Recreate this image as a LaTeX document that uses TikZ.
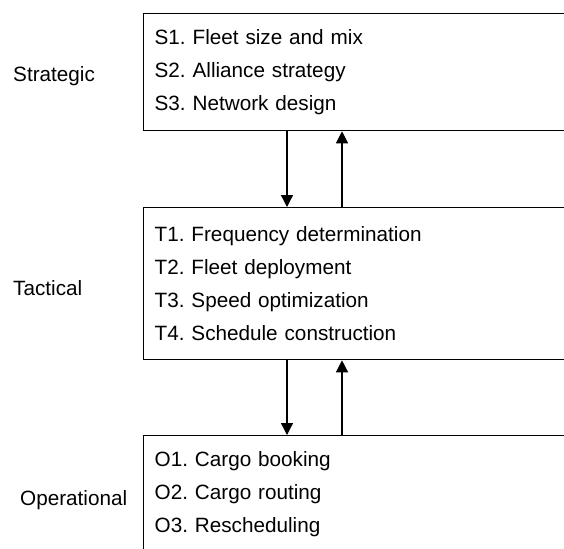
\documentclass[tikz,border=0pt]{standalone}
\usepackage{fontspec}
\setmainfont{Liberation Sans}
\usetikzlibrary{arrows.meta,positioning}
\frenchspacing

\begin{document}
\begin{tikzpicture}[
    x=1pt, y=-1pt,
    font=\fontsize{20.7}{33}\selectfont,
    level/.style={draw, line width=1.3pt, inner xsep=11pt, inner ysep=0pt,
        text width=478pt, align=left},
    tag/.style={inner sep=0pt},
    flow/.style={line width=1.3pt, -{Triangle[length=12pt, width=12pt]}}
]

\useasboundingbox (0,0) rectangle (564,548);
\clip (0,0) rectangle (564,548);

\node[level, minimum height=117pt, anchor=north west] (strat) at (143,13)
    {S1. Fleet size and mix\\ S2. Alliance strategy\\ S3. Network design};
\node[level, minimum height=152pt, anchor=north west] (tact) at (143,207)
    {T1. Frequency determination\\ T2. Fleet deployment\\
     T3. Speed optimization\\ T4. Schedule construction};
\node[level, minimum height=117pt, anchor=north west] (oper) at (143,435)
    {O1. Cargo booking\\ O2. Cargo routing\\ O3. Rescheduling};

\node[tag, anchor=base west] (lstrat) at (13,82) {Strategic};
\node[tag, anchor=base west] (ltact) at (13,295) {Tactical};
\node[tag, anchor=base west] (loper) at (20,505) {Operational};

% down and up between levels
\draw[flow] ([xshift=144pt]strat.south west) -- ([xshift=144pt]tact.north west);
\draw[flow] ([xshift=199pt]tact.north west) -- ([xshift=199pt]strat.south west);
\draw[flow] ([xshift=144pt]tact.south west) -- ([xshift=144pt]oper.north west);
\draw[flow] ([xshift=199pt]oper.north west) -- ([xshift=199pt]tact.south west);

\end{tikzpicture}
\end{document}
